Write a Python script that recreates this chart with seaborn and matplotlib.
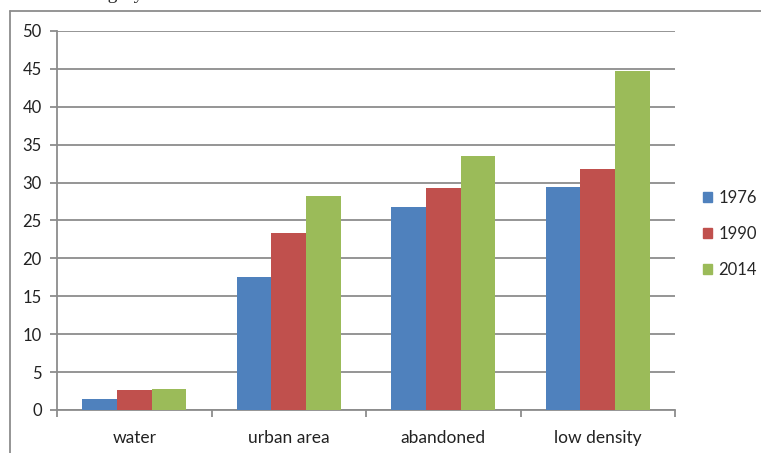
import pandas as pd
import matplotlib
matplotlib.use('Agg')
import matplotlib.pyplot as plt
import seaborn as sns
from matplotlib.lines import Line2D

# Chart data
categories = ['water', 'urban area', 'abandoned', 'low density']
years = ['1976', '1990', '2014']
values_1976 = [1.4, 17.6, 26.8, 29.4]
values_1990 = [2.6, 23.4, 29.3, 31.8]
values_2014 = [2.8, 28.2, 33.5, 44.7]
colors = ['#4F81BD', '#C0504D', '#9BBB59']

df = pd.DataFrame({
    'category': categories * 3,
    'year': [years[0]] * 4 + [years[1]] * 4 + [years[2]] * 4,
    'value': values_1976 + values_1990 + values_2014,
})

sns.set_style('white')
plt.rcParams['font.family'] = ['Lato', 'DejaVu Sans']

fig = plt.figure(figsize=(7.61, 4.53), dpi=100)
ax = fig.add_axes([57 / 761, 1 - 410 / 453, 618 / 761, 379 / 453])

sns.barplot(data=df, x='category', y='value', hue='year', palette=colors,
            width=0.67, saturation=1, gap=0, linewidth=0, edgecolor='none',
            ax=ax, legend=True, zorder=3)

grid_c = '#8C8C8C'
ax.set_ylim(0, 50)
ax.set_xlim(-0.5, 3.5)
ax.set_yticks(range(0, 51, 5))
ax.yaxis.grid(True, color=grid_c, linewidth=1.3, zorder=0)
ax.set_axisbelow(True)
for s in ['top', 'right']:
    ax.spines[s].set_visible(False)
for s in ['left', 'bottom']:
    ax.spines[s].set_color(grid_c)
    ax.spines[s].set_linewidth(1.3)
ax.set_xlabel('')
ax.set_ylabel('')
ax.tick_params(axis='y', which='major', left=True, length=5, width=1.3,
               color=grid_c, labelsize=12, labelcolor='#222222', pad=6)
ax.set_xticks([-0.5, 0.5, 1.5, 2.5, 3.5], minor=True)
ax.tick_params(axis='x', which='minor', bottom=True, length=5, width=1.3, color=grid_c)
ax.tick_params(axis='x', which='major', bottom=False, labelsize=12.5,
               labelcolor='#222222', pad=11)

handles = [plt.Rectangle((0, 0), 1, 1, color=c) for c in colors]
ax.legend(handles, years, loc='center left', bbox_to_anchor=(1.045, 0.464),
          frameon=False, fontsize=12, handlelength=0.55, handleheight=0.55,
          labelspacing=1.2, handletextpad=0.4, borderpad=0, borderaxespad=0)

# outer chart frame (partly cropped)
fig.add_artist(Line2D([10 / 761, 10 / 761], [0, 1 - 11 / 453], transform=fig.transFigure,
                      color='#8C8C8C', linewidth=1.3))
fig.add_artist(Line2D([10 / 761, 1], [1 - 11 / 453, 1 - 11 / 453], transform=fig.transFigure,
                      color='#8C8C8C', linewidth=1.3))
# cropped caption above the frame
fig.text(0.0, 1.012, 'Land use category in % based on GIS', fontsize=14,
         family=['Liberation Serif', 'DejaVu Serif'], va='center', ha='left')

fig.savefig('out.png', dpi=100)
